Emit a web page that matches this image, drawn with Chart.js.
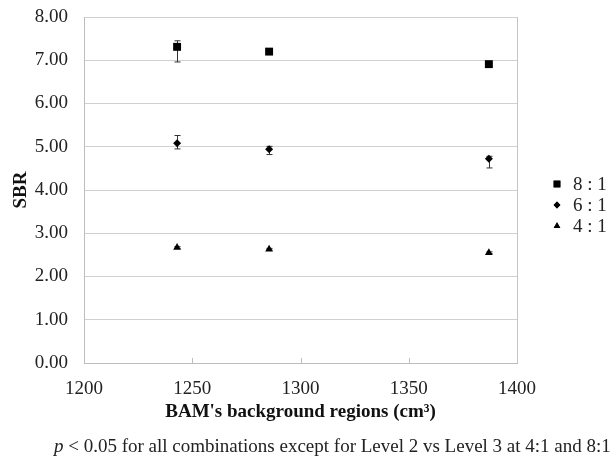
<!DOCTYPE html>
<html>
<head>
<meta charset="utf-8">
<script src="https://cdn.jsdelivr.net/npm/chart.js@4/dist/chart.umd.min.js"></script>
<style>
  body { margin: 0; background: #fff; }
  #wrap { position: relative; width: 616px; height: 458px; }
  #note {
    position: absolute; left: 54px; top: 435px;
    font: 19px "Liberation Serif", serif; color: #222; white-space: nowrap;
  }
</style>
</head>
<body>
<div id="wrap">
  <canvas id="sbrChart" width="616" height="458"></canvas>
  <div id="note"><i>p</i> &lt; 0.05 for all combinations except for Level 2 vs Level 3 at 4:1 and 8:1</div>
</div>
<script>
// BAM background region volumes (cm3)
const volumes = [1243, 1285.5, 1387];
const seriesLabels = ['8 : 1', '6 : 1', '4 : 1'];
const pointStyles = ['rect', 'rectRot', 'triangle'];
const pointSizes = [5.6, 4, 4.5];

// SBR mean values
const sbr8to1 = [7.31, 7.20, 6.91];
const sbr6to1 = [5.08, 4.94, 4.72];
const sbr4to1 = [2.67, 2.63, 2.55];

// error bar ends (upper / lower)
const hi8to1 = [7.45, 7.22, 6.93];
const lo8to1 = [6.96, 7.18, 6.86];
const hi6to1 = [5.26, 5.01, 4.78];
const lo6to1 = [4.95, 4.82, 4.51];
const hi4to1 = [2.69, 2.65, 2.57];
const lo4to1 = [2.65, 2.61, 2.53];

const yTicks = [0, 1, 2, 3, 4, 5, 6, 7, 8];
const xTicks = [1200, 1250, 1300, 1350, 1400];

const serif = 'Liberation Serif';
const allValues = [sbr8to1, sbr6to1, sbr4to1];
const allHi = [hi8to1, hi6to1, hi4to1];
const allLo = [lo8to1, lo6to1, lo4to1];

// 整理資料格式
let datasetRef = [];
for (let i in allValues) {
  datasetRef.push({
    label: seriesLabels[i],
    data: volumes.map((v, k) => ({ x: v, y: allValues[i][k] })),
    errHi: allHi[i],
    errLo: allLo[i],
    pointStyle: pointStyles[i],
    pointRadius: pointSizes[i],
    pointHoverRadius: pointSizes[i],
    backgroundColor: '#000',
    borderColor: '#000',
    borderWidth: 0,
    showLine: false,
  });
}

// error bars + inside tick marks, drawn under the markers
const errorBars = {
  id: 'errorBars',
  beforeDatasetsDraw(chart) {
    const ctx = chart.ctx;
    const xs = chart.scales.x, ys = chart.scales.y;
    ctx.save();
    ctx.strokeStyle = '#333';
    ctx.lineWidth = 1;
    chart.data.datasets.forEach(ds => {
      ds.data.forEach((p, k) => {
        const px = Math.round(xs.getPixelForValue(p.x)) + 0.5;
        const yh = ys.getPixelForValue(ds.errHi[k]);
        const yl = ys.getPixelForValue(ds.errLo[k]);
        ctx.beginPath();
        ctx.moveTo(px, yh); ctx.lineTo(px, yl);
        ctx.moveTo(px - 3, yh); ctx.lineTo(px + 3, yh);
        ctx.moveTo(px - 3, yl); ctx.lineTo(px + 3, yl);
        ctx.stroke();
      });
    });
    // small inside ticks on the x axis
    ctx.strokeStyle = '#bdbdbd';
    const yb = Math.round(ys.getPixelForValue(0));
    xTicks.slice(1, -1).forEach(t => {
      const px = Math.round(xs.getPixelForValue(t)) + 0.5;
      ctx.beginPath();
      ctx.moveTo(px, yb); ctx.lineTo(px, yb - 5);
      ctx.stroke();
    });
    ctx.restore();
  }
};

// legend at the right side
const sideLegend = {
  id: 'sideLegend',
  afterDraw(chart) {
    const ctx = chart.ctx;
    ctx.save();
    ctx.font = '19px "' + serif + '"';
    ctx.textBaseline = 'middle';
    chart.data.datasets.forEach((ds, i) => {
      const y = 184 + i * 21;
      ctx.fillStyle = '#000';
      Chart.helpers.drawPoint(ctx, { pointStyle: ds.pointStyle, radius: ds.pointRadius * 0.85, borderWidth: 0 }, 557, y);
      ctx.fill();
      ctx.fillStyle = '#222';
      ctx.fillText(ds.label, 573, y + 1);
    });
    ctx.restore();
  }
};

const myContext = document.getElementById('sbrChart').getContext('2d');
new Chart(myContext, {
  type: 'scatter',
  data: { datasets: datasetRef },
  plugins: [errorBars, sideLegend],
  options: {
    responsive: false,
    animation: false,
    layout: { padding: { left: 0, right: 99, top: 17, bottom: 0 } },
    plugins: { legend: { display: false }, tooltip: { enabled: false } },
    scales: {
      x: {
        type: 'linear',
        min: 1200, max: 1400,
        afterBuildTicks: (s) => { s.ticks = xTicks.map(v => ({ value: v })); },
        afterFit: (s) => { s.height = 95; },
        grid: {
          drawTicks: false,
          color: (c) => (c.tick && c.tick.value === 1400) ? '#c4c4c4' : 'rgba(0,0,0,0)',
        },
        border: { color: '#bdbdbd' },
        ticks: {
          padding: 15, color: '#222', font: { family: serif, size: 19 },
          callback: (v) => String(v),
        },
        title: {
          display: true,
          text: "BAM's background regions (cm³)",
          color: '#111',
          font: { family: serif, size: 19, weight: 'bold' },
          padding: { top: 0, bottom: 35 },
        },
      },
      y: {
        min: 0, max: 8,
        afterBuildTicks: (s) => { s.ticks = yTicks.map(v => ({ value: v })); },
        afterFit: (s) => { s.width = 84; },
        grid: { drawTicks: false, color: '#d0d0d0' },
        border: { color: '#bdbdbd' },
        ticks: {
          padding: 16, color: '#222', font: { family: serif, size: 19, lineHeight: 0.1 },
          callback: (v) => Number(v).toFixed(2),
        },
        title: {
          display: true,
          text: 'SBR',
          color: '#111',
          font: { family: serif, size: 19, weight: 'bold' },
          padding: { top: 10, bottom: 0 },
        },
      },
    },
  },
});
</script>
</body>
</html>
